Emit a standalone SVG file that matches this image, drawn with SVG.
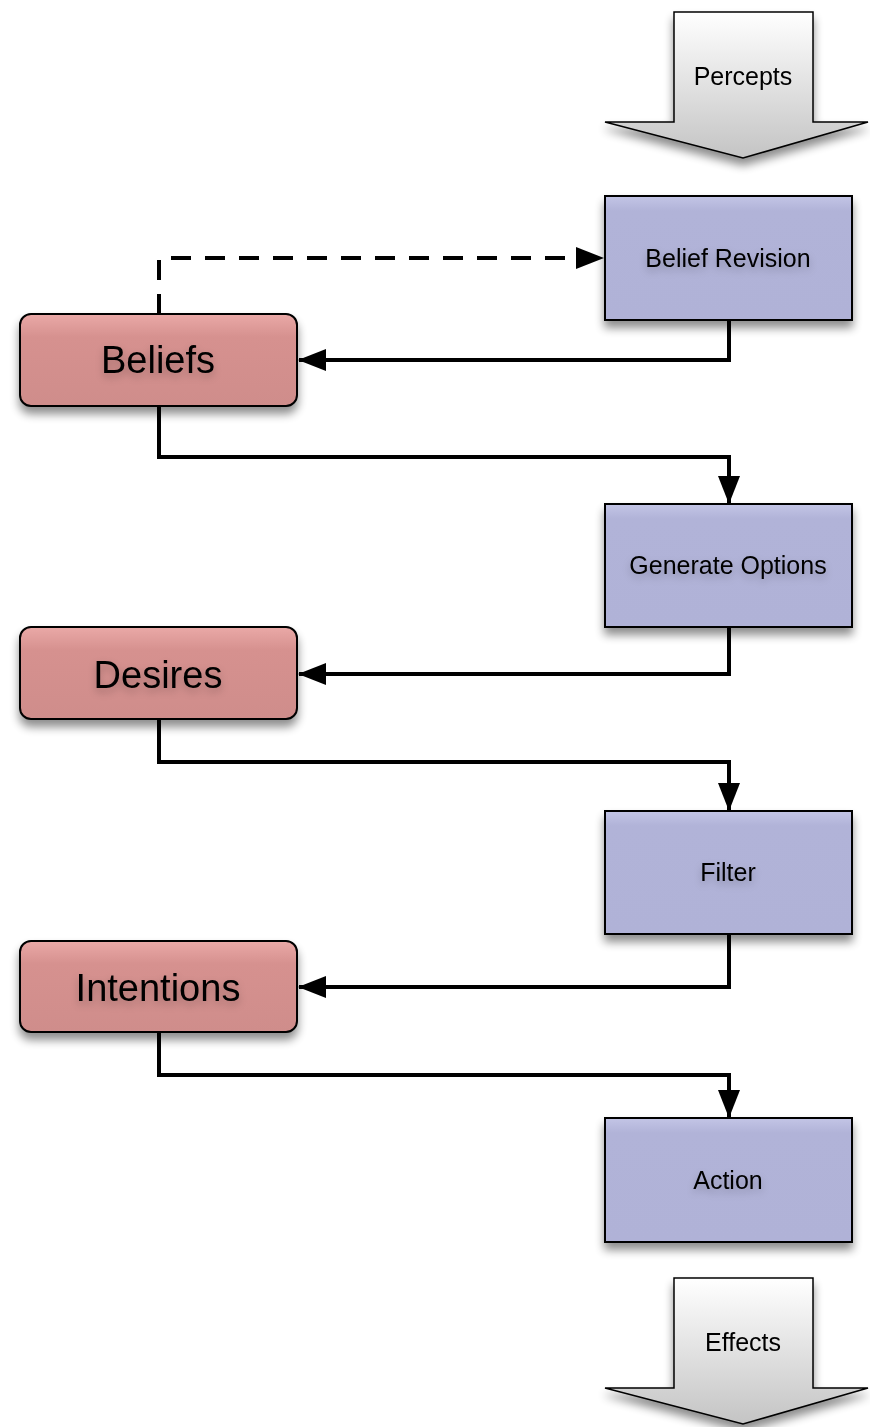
<svg xmlns="http://www.w3.org/2000/svg" width="870" height="1427" viewBox="0 0 870 1427">
<defs>
  <linearGradient id="gBlue" x1="0" y1="0" x2="0" y2="1">
    <stop offset="0" stop-color="#c3c5e6"/>
    <stop offset="0.12" stop-color="#b1b3d8"/>
    <stop offset="1" stop-color="#b0b2d7"/>
  </linearGradient>
  <linearGradient id="gRed" x1="0" y1="0" x2="0" y2="1">
    <stop offset="0" stop-color="#eaa9a7"/>
    <stop offset="0.25" stop-color="#d6918f"/>
    <stop offset="1" stop-color="#cf8d8b"/>
  </linearGradient>
  <linearGradient id="gGray" x1="0" y1="0" x2="0" y2="1">
    <stop offset="0" stop-color="#ffffff"/>
    <stop offset="1" stop-color="#c4c4c4"/>
  </linearGradient>
  <filter id="shadow" x="-20%" y="-20%" width="140%" height="150%">
    <feGaussianBlur in="SourceAlpha" stdDeviation="5"/>
    <feOffset dx="0" dy="7" result="b"/>
    <feComponentTransfer><feFuncA type="linear" slope="0.45"/></feComponentTransfer>
    <feMerge><feMergeNode/><feMergeNode in="SourceGraphic"/></feMerge>
  </filter>
  <filter id="tglow" x="-20%" y="-50%" width="140%" height="220%">
    <feGaussianBlur in="SourceAlpha" stdDeviation="4"/>
    <feOffset dx="0" dy="4"/>
    <feComponentTransfer><feFuncA type="linear" slope="0.25"/></feComponentTransfer>
    <feMerge><feMergeNode/><feMergeNode in="SourceGraphic"/></feMerge>
  </filter>
  <marker id="arrow" viewBox="0 0 28 22" refX="27" refY="11" markerWidth="28" markerHeight="22" markerUnits="userSpaceOnUse" orient="auto">
    <path d="M0,0 L28,11 L0,22 Z" fill="#000"/>
  </marker>
</defs>
<style>
  .proc { fill: url(#gBlue); stroke: #000; stroke-width: 2; }
  .store { fill: url(#gRed); stroke: #000; stroke-width: 2; }
  .io { fill: url(#gGray); stroke: #000; stroke-width: 1.5; }
  .t { font-family: "Liberation Sans", Arial, sans-serif; fill: #000; text-anchor: middle; dominant-baseline: central; }
  .ts { font-size: 25px; }
  .tl { font-size: 38px; }
  .conn { fill: none; stroke: #000; stroke-width: 4; }
  .dash { stroke-dasharray: 20 14; }
</style>

<g id="connectors">
  <path class="conn dash" d="M159,314 V258 H603" marker-end="url(#arrow)"/>
  <path class="conn" d="M729,320 V360 H299" marker-end="url(#arrow)"/>
  <path class="conn" d="M159,406 V457 H729 V503" marker-end="url(#arrow)"/>
  <path class="conn" d="M729,627 V674 H299" marker-end="url(#arrow)"/>
  <path class="conn" d="M159,719 V762 H729 V810" marker-end="url(#arrow)"/>
  <path class="conn" d="M729,934 V987 H299" marker-end="url(#arrow)"/>
  <path class="conn" d="M159,1032 V1075 H729 V1117" marker-end="url(#arrow)"/>
</g>

<g id="percepts" filter="url(#shadow)">
  <path class="io" d="M674,12 H813 V122 H868 L743,158 L605,122 H674 Z"/>
  <text class="t ts" x="743" y="76">Percepts</text>
</g>

<g id="belief-revision">
  <rect class="proc" x="605" y="196" width="247" height="124" filter="url(#shadow)"/>
  <text class="t ts" x="728" y="258" filter="url(#tglow)">Belief Revision</text>
</g>

<g id="beliefs">
  <rect class="store" x="20" y="314" width="277" height="92" rx="11" filter="url(#shadow)"/>
  <text class="t tl" x="158" y="360" filter="url(#tglow)">Beliefs</text>
</g>

<g id="generate-options">
  <rect class="proc" x="605" y="504" width="247" height="123" filter="url(#shadow)"/>
  <text class="t ts" x="728" y="565" filter="url(#tglow)">Generate Options</text>
</g>

<g id="desires">
  <rect class="store" x="20" y="627" width="277" height="92" rx="11" filter="url(#shadow)"/>
  <text class="t tl" x="158" y="675" filter="url(#tglow)">Desires</text>
</g>

<g id="filter">
  <rect class="proc" x="605" y="811" width="247" height="123" filter="url(#shadow)"/>
  <text class="t ts" x="728" y="872" filter="url(#tglow)">Filter</text>
</g>

<g id="intentions">
  <rect class="store" x="20" y="941" width="277" height="91" rx="11" filter="url(#shadow)"/>
  <text class="t tl" x="158" y="988" filter="url(#tglow)">Intentions</text>
</g>

<g id="action">
  <rect class="proc" x="605" y="1118" width="247" height="124" filter="url(#shadow)"/>
  <text class="t ts" x="728" y="1180" filter="url(#tglow)">Action</text>
</g>

<g id="effects" filter="url(#shadow)">
  <path class="io" d="M674,1278 H813 V1388 H868 L743,1424 L605,1388 H674 Z"/>
  <text class="t ts" x="743" y="1342">Effects</text>
</g>
</svg>
